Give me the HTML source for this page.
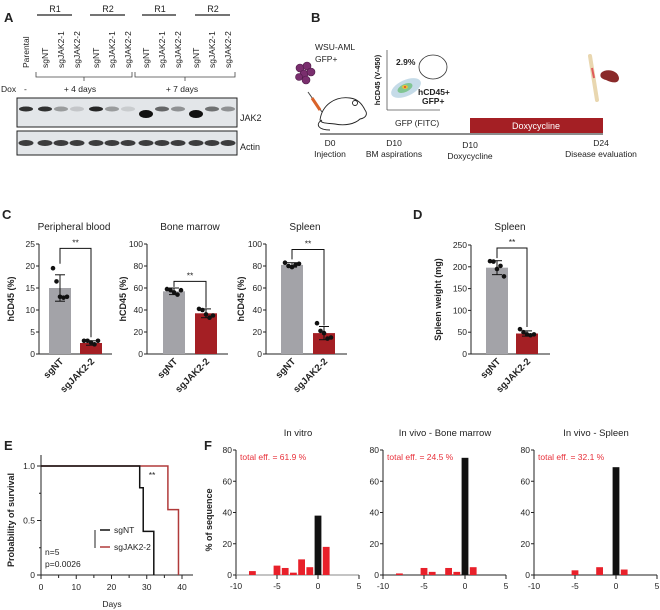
<!DOCTYPE html>
<html><head><meta charset="utf-8">
<style>
html,body{margin:0;padding:0;background:#fff;}
svg{display:block;font-family:"Liberation Sans",Arial,sans-serif;}
text{fill:#222;}
</style></head>
<body>
<svg id="fig" width="660" height="610" viewBox="0 0 660 610" xmlns="http://www.w3.org/2000/svg">
<!-- Panel A -->
<g id="panelA">
<text x="4" y="22" font-size="13" font-weight="bold">A</text>
<g font-size="9" text-anchor="middle">
<text x="55" y="12">R1</text><text x="108" y="12">R2</text><text x="160" y="12">R1</text><text x="213" y="12">R2</text>
</g>
<g stroke="#222" stroke-width="1.2">
<line x1="37" y1="15" x2="72" y2="15"/><line x1="90" y1="15" x2="125" y2="15"/><line x1="142" y1="15" x2="176" y2="15"/><line x1="195" y1="15" x2="230" y2="15"/>
</g>
<g id="laneLabels" font-size="8.5"></g>
<g stroke="#444" stroke-width="0.8" fill="none">
<path d="M36 72 V77 H132 V72 M84 77 V81"/>
<path d="M135 72 V77 H235 V72 M185 77 V81"/>
</g>
<g font-size="8.5">
<text x="1" y="92">Dox</text><text x="24" y="92">-</text>
<text x="80" y="92" text-anchor="middle">+ 4 days</text><text x="182" y="92" text-anchor="middle">+ 7 days</text>
</g>
<rect x="17" y="98" width="220" height="29" fill="#e3e6e9" stroke="#222" stroke-width="1"/>
<rect x="17" y="131" width="220" height="24" fill="#e3e6e9" stroke="#222" stroke-width="1"/>
<g id="bands"></g>
<text x="240" y="121" font-size="9">JAK2</text>
<text x="240" y="150" font-size="9">Actin</text>
</g>

<!-- Panel B -->
<g id="panelB">
<text x="311" y="22" font-size="13" font-weight="bold">B</text>
<text x="315" y="50" font-size="8.5">WSU-AML</text>
<text x="315" y="62" font-size="8.5">GFP+</text>
<g fill="#7a2e6e" stroke="#4a1a44" stroke-width="0.6">
<circle cx="300" cy="68" r="4"/><circle cx="307" cy="66" r="4"/><circle cx="304" cy="74" r="4"/><circle cx="311" cy="72" r="4"/><circle cx="306" cy="80" r="4"/><circle cx="299" cy="77" r="3.5"/>
</g>
<g>
<line x1="308" y1="92" x2="322" y2="112" stroke="#444" stroke-width="1"/>
<line x1="312" y1="98" x2="320" y2="110" stroke="#d9632a" stroke-width="3"/>
</g>
<g fill="none" stroke="#222" stroke-width="0.9">
<path d="M320 120 C322 105 335 96 350 98 C358 99 362 104 365 110 C368 114 366 118 360 119 C355 124 345 126 335 124 C328 123 322 124 320 120 Z"/>
<circle cx="355" cy="103" r="2.5"/><path d="M322 120 C315 124 318 130 330 130"/>
</g>
<g>
<line x1="387" y1="50" x2="387" y2="110" stroke="#555" stroke-width="0.8"/>
<line x1="387" y1="110" x2="440" y2="110" stroke="#555" stroke-width="0.8"/>
<ellipse cx="406" cy="88" rx="16" ry="8" fill="#9ec3d8" opacity="0.6" transform="rotate(-25 406 88)"/>
<ellipse cx="405" cy="88" rx="8" ry="4" fill="#6fbf7d" opacity="0.8" transform="rotate(-25 405 88)"/>
<ellipse cx="405" cy="87" rx="3" ry="2" fill="#e6c23a"/>
<circle cx="405" cy="87" r="1" fill="#e0422a"/>
<ellipse cx="433" cy="67" rx="14" ry="12" fill="none" stroke="#333" stroke-width="0.8"/>
<text x="396" y="65" font-size="8.5" font-weight="bold">2.9%</text>
<text x="418" y="95" font-size="8.5" font-weight="bold">hCD45+</text>
<text x="422" y="104" font-size="8.5" font-weight="bold">GFP+</text>
<text transform="translate(380 80) rotate(-90)" font-size="7.5" font-weight="bold" text-anchor="middle">hCD45 (V-450)</text>
<text x="395" y="126" font-size="8.5">GFP (FITC)</text>
</g>
<g>
<line x1="590" y1="56" x2="597" y2="100" stroke="#e9d7b0" stroke-width="4" stroke-linecap="round"/>
<line x1="592" y1="68" x2="594" y2="78" stroke="#e05a5a" stroke-width="2"/>
</g>
<path d="M601 73 C606 68 618 70 619 78 C619 84 612 83 606 80 C602 79 599 77 601 73 Z" fill="#8a2a2a"/>
<line x1="320" y1="134" x2="603" y2="134" stroke="#666" stroke-width="1.5"/>
<rect x="470" y="118" width="133" height="15" fill="#a41f24"/>
<text x="536" y="129" font-size="9" fill="#fff" style="fill:#fff" text-anchor="middle">Doxycycline</text>
<g font-size="8.5" text-anchor="middle">
<text x="330" y="146">D0</text><text x="330" y="157">Injection</text>
<text x="394" y="146">D10</text><text x="394" y="157">BM aspirations</text>
<text x="470" y="148">D10</text><text x="470" y="159">Doxycycline</text>
<text x="601" y="146">D24</text><text x="601" y="157">Disease evaluation</text>
</g>
</g>

<text x="2" y="219" font-size="13" font-weight="bold">C</text>
<text x="413" y="219" font-size="13" font-weight="bold">D</text>
<text x="4" y="450" font-size="13" font-weight="bold">E</text>
<text x="204" y="450" font-size="13" font-weight="bold">F</text>
<g id="charts"></g>
</svg>

<script>
// ===== Panel A data =====
const laneNames = ["Parental","sgNT","sgJAK2-1","sgJAK2-2","sgNT","sgJAK2-1","sgJAK2-2","sgNT","sgJAK2-1","sgJAK2-2","sgNT","sgJAK2-1","sgJAK2-2"];
const jak2Intensity = [0.85,0.85,0.35,0.15,0.9,0.35,0.12,1.0,0.6,0.4,1.0,0.55,0.4];
const actinIntensity = [0.8,0.8,0.8,0.8,0.8,0.8,0.8,0.8,0.8,0.8,0.8,0.8,0.8];

// ===== Panel C/D data =====
const groups = ["sgNT","sgJAK2-2"];
const pbMeans = [15, 2.5];
const pbSD = [3, 0.5];
const pbPoints = [[19.5,16.5,13,12.8,13],[3,3,2.6,2.2,3]];
const pbTicks = [0,5,10,15,20,25];
const bmMeans = [57, 37];
const bmSD = [3, 4];
const bmPoints = [[59,58,56,54,58],[41,40,36,33,35]];
const bmTicks = [0,20,40,60,80,100];
const spMeans = [81, 19];
const spSD = [2, 6];
const spPoints = [[83,80,79,81,82],[28,21,19,14,15]];
const spTicks = [0,20,40,60,80,100];
const swMeans = [198, 47];
const swSD = [16, 6];
const swPoints = [[213,212,195,202,178],[57,50,45,43,45]];
const swTicks = [0,50,100,150,200,250];

// ===== Panel E data =====
const kmNTdays = [0,28,29,32];
const kmNTsurv = [1,0.8,0.4,0];
const kmJAKdays = [0,36,39];
const kmJAKsurv = [1,0.6,0];
const kmXTicks = [0,10,20,30,40];
const kmYTicks = [0,0.5,1.0];

// ===== Panel F data =====
const fTicksX = [-10,-5,0,5];
const fTicksY = [0,20,40,60,80];
const vitroPos = [-8,-5,-4,-3,-2,-1,0,1];
const vitroVal = [2.5,6,4.5,1.5,10,5,38,18];
const bmPos = [-8,-5,-4,-2,-1,0,1];
const bmVal = [1,4.5,2,4.5,2,75,5];
const splPos = [-5,-2,0,1];
const splVal = [3,5,69,3.5];
const effLabels = ["total eff. = 61.9 %","total eff. = 24.5 %","total eff. = 32.1 %"];
const fTitles = ["In vitro","In vivo - Bone marrow","In vivo - Spleen"];

const NS = "http://www.w3.org/2000/svg";
function mk(tag, attrs, parent, txt){
  const e = document.createElementNS(NS, tag);
  for (const k in attrs) e.setAttribute(k, attrs[k]);
  if (txt !== undefined) e.textContent = txt;
  parent.appendChild(e);
  return e;
}
const charts = document.getElementById("charts");

// ----- Panel A build -----
const laneX = [26,45,61,77,96,112,128,146,162,178,196,212,228];
const ll = document.getElementById("laneLabels");
laneNames.forEach((n,i)=>{
  const t = mk("text",{transform:`translate(${laneX[i]+3} 68) rotate(-90)`},ll,n);
  
  
});
const bands = document.getElementById("bands");
jak2Intensity.forEach((v,i)=>{
  const big = v>=1;
  const b = mk("ellipse",{cx:laneX[i],cy:big?114:109,rx:7,ry:big?4:2.5,fill:"#111",opacity:v},bands);
  
  
});
actinIntensity.forEach((v,i)=>{
  const b = mk("ellipse",{cx:laneX[i],cy:143,rx:7.5,ry:3,fill:"#111",opacity:v},bands);
  
  
});

// ----- bar charts -----
function barChart(opt){
  const g = mk("g",{},charts);
  
  
  const vmax = opt.ticks[opt.ticks.length-1];
  const y = v => opt.y0 - (v/vmax)*(opt.y0-opt.ytop);
  const title = mk("text",{x:opt.titleX,y:230,"font-size":10,"text-anchor":"middle"},g,opt.title);
  
  
  mk("line",{x1:opt.ax,y1:opt.ytop,x2:opt.ax,y2:opt.y0,stroke:"#222","stroke-width":1},g);
  mk("line",{x1:opt.ax,y1:opt.y0,x2:opt.axEnd,y2:opt.y0,stroke:"#222","stroke-width":1},g);
  opt.ticks.forEach(t=>{
    mk("line",{x1:opt.ax-3,y1:y(t),x2:opt.ax,y2:y(t),stroke:"#222"},g);
    const tl = mk("text",{x:opt.ax-4,y:y(t)+3,"font-size":8.5,"text-anchor":"end"},g,t);
    
    
  });
  const yl = mk("text",{transform:`translate(${opt.ylabX} ${(opt.y0+opt.ytop)/2}) rotate(-90)`,"font-size":9,"font-weight":"bold","text-anchor":"middle"},g,opt.ylabel);
  
  
  const offs = [-7,-3.5,0,3.5,7];
  const centers = [];
  opt.means.forEach((m,i)=>{
    const x0 = opt.barX[i], w = opt.barW, cx = x0+w/2;
    centers.push(cx);
    const r = mk("rect",{x:x0,y:y(m),width:w,height:opt.y0-y(m),fill:i==0?"#a3a3a8":"#a41f24"},g);
    
    
    const sd = opt.sd[i];
    mk("line",{x1:cx,y1:y(m+sd),x2:cx,y2:y(m-sd),stroke:"#111","stroke-width":1},g);
    mk("line",{x1:cx-5,y1:y(m+sd),x2:cx+5,y2:y(m+sd),stroke:"#111","stroke-width":1},g);
    mk("line",{x1:cx-5,y1:y(m-sd),x2:cx+5,y2:y(m-sd),stroke:"#111","stroke-width":1},g);
    opt.points[i].forEach((p,j)=>{
      const d = mk("circle",{cx:cx+offs[j],cy:y(p),r:2.3,fill:"#111"},g);
      
      
    });
    const xl = mk("text",{transform:`translate(${cx+4} ${opt.y0+8}) rotate(-45)`,"font-size":9.5,"font-weight":"bold","text-anchor":"end"},g,groups[i]);
    
    
  });
  const top = y(opt.brTop);
  mk("path",{d:`M${centers[0]} ${y(opt.brL)} V${top} H${centers[1]} V${y(opt.brR)}`,fill:"none",stroke:"#111","stroke-width":1},g);
  const s = mk("text",{x:(centers[0]+centers[1])/2,y:top-3,"font-size":8.5,"text-anchor":"middle"},g,"**");
  
  
}
barChart({name:"chart-peripheral-blood",title:"Peripheral blood",titleX:74,ax:39,axEnd:112,y0:354,ytop:244,ticks:pbTicks,means:pbMeans,sd:pbSD,points:pbPoints,barX:[49,80],barW:22,ylabel:"hCD45 (%)",ylabX:14,brTop:24,brL:20.5,brR:3.8});
barChart({name:"chart-bone-marrow",title:"Bone marrow",titleX:190,ax:147,axEnd:228,y0:354,ytop:244,ticks:bmTicks,means:bmMeans,sd:bmSD,points:bmPoints,barX:[163,195],barW:22,ylabel:"hCD45 (%)",ylabX:126,brTop:66,brL:61,brR:42});
barChart({name:"chart-spleen-hcd45",title:"Spleen",titleX:305,ax:266,axEnd:347,y0:354,ytop:244,ticks:spTicks,means:spMeans,sd:spSD,points:spPoints,barX:[281,313],barW:22,ylabel:"hCD45 (%)",ylabX:244,brTop:95,brL:86,brR:26});
barChart({name:"chart-spleen-weight",title:"Spleen",titleX:510,ax:471,axEnd:550,y0:354,ytop:245,ticks:swTicks,means:swMeans,sd:swSD,points:swPoints,barX:[486,516],barW:22,ylabel:"Spleen weight (mg)",ylabX:441,brTop:243,brL:220,brR:62});

// ----- Panel E: KM -----
(function(){
  const g = mk("g",{},charts);
  
  
  const x = d => 41 + d*(182-41)/40;
  const y = p => 575 - p*(575-466);
  mk("line",{x1:41,y1:455,x2:41,y2:575,stroke:"#222"},g);
  mk("line",{x1:41,y1:575,x2:193,y2:575,stroke:"#222"},g);
  kmXTicks.forEach(t=>{
    mk("line",{x1:x(t),y1:575,x2:x(t),y2:579,stroke:"#222"},g);
    const l = mk("text",{x:x(t),y:590,"font-size":8.5,"text-anchor":"middle"},g,t);
    
    
  });
  for(let t=5;t<40;t+=10){ mk("line",{x1:x(t),y1:575,x2:x(t),y2:578,stroke:"#222"},g); }
  kmYTicks.forEach(t=>{
    mk("line",{x1:37,y1:y(t),x2:41,y2:y(t),stroke:"#222"},g);
    const l = mk("text",{x:35,y:y(t)+3,"font-size":8.5,"text-anchor":"end"},g,t==0?"0":t.toFixed(1));
    
    
  });
  [0.25,0.75].forEach(t=>mk("line",{x1:39,y1:y(t),x2:41,y2:y(t),stroke:"#222"},g));
  function step(days,surv,color,name){
    let d = `M${x(days[0])} ${y(surv[0])}`;
    for(let i=1;i<days.length;i++){ d += ` H${x(days[i])} V${y(surv[i])}`; }
    const p = mk("path",{d:d,fill:"none",stroke:color,"stroke-width":1.5},g);
    
    
  }
  step(kmJAKdays,kmJAKsurv,"#b03a3a","survival-curve-sgjak2");
  step(kmNTdays,kmNTsurv,"#111","survival-curve-sgnt");
  const yt = mk("text",{transform:"translate(14 520) rotate(-90)","font-size":9,"font-weight":"bold","text-anchor":"middle"},g,"Probability of survival");
  
  
  const xt = mk("text",{x:112,y:607,"font-size":8.5,"text-anchor":"middle"},g,"Days");
  
  
  const st = mk("text",{x:152,y:478,"font-size":8.5,"text-anchor":"middle"},g,"**");
  
  
  mk("line",{x1:95,y1:530,x2:95,y2:548,stroke:"#222"},g);
  mk("line",{x1:100,y1:530,x2:110,y2:530,stroke:"#111","stroke-width":1.5},g);
  mk("line",{x1:100,y1:547,x2:110,y2:547,stroke:"#b03a3a","stroke-width":1.5},g);
  const l1 = mk("text",{x:114,y:533,"font-size":8.5},g,"sgNT");
  
  
  const l2 = mk("text",{x:114,y:550,"font-size":8.5},g,"sgJAK2-2");
  
  
  const n = mk("text",{x:45,y:555,"font-size":8.5},g,"n=5");
  
  
  const pv = mk("text",{x:45,y:567,"font-size":8.5},g,"p=0.0026");
  
  
})();

// ----- Panel F -----
function indelChart(k, ax, pos, val){
  const g = mk("g",{},charts);
  
  
  const x = v => ax + (v+10)*8.2;
  const y = v => 575 - v*(575-450)/80;
  const t = mk("text",{x:x(-10)+62,y:436,"font-size":9.5,"text-anchor":"middle"},g,fTitles[k]);
  
  
  mk("line",{x1:ax,y1:450,x2:ax,y2:575,stroke:"#222"},g);
  mk("line",{x1:ax,y1:575,x2:x(5),y2:575,stroke:k==0?"#888":"#222","stroke-width":1},g);
  fTicksY.forEach(v=>{
    mk("line",{x1:ax-3,y1:y(v),x2:ax,y2:y(v),stroke:"#222"},g);
    const l = mk("text",{x:ax-4,y:y(v)+3,"font-size":8.5,"text-anchor":"end"},g,v);
    
    
  });
  fTicksX.forEach(v=>{
    mk("line",{x1:x(v),y1:575,x2:x(v),y2:579,stroke:"#222"},g);
    const l = mk("text",{x:x(v),y:589,"font-size":8.5,"text-anchor":"middle"},g,v);
    
    
  });
  pos.forEach((p,i)=>{
    const r = mk("rect",{x:x(p)-3.4,y:y(val[i]),width:6.8,height:575-y(val[i]),fill:p==0?"#111":"#e8202a"},g);
    
    
  });
  const e = mk("text",{x:ax+4,y:460,"font-size":8.5,fill:"#e8303a",style:"fill:#e8303a"},g,effLabels[k]);
  
  
  if(k==0){
    const yt = mk("text",{transform:`translate(${ax-24} 520) rotate(-90)`,"font-size":9,"font-weight":"bold","text-anchor":"middle"},g,"% of sequence");
    
    
  }
}
indelChart(0,236,vitroPos,vitroVal);
indelChart(1,383,bmPos,bmVal);
indelChart(2,534,splPos,splVal);
</script>
</body></html>
